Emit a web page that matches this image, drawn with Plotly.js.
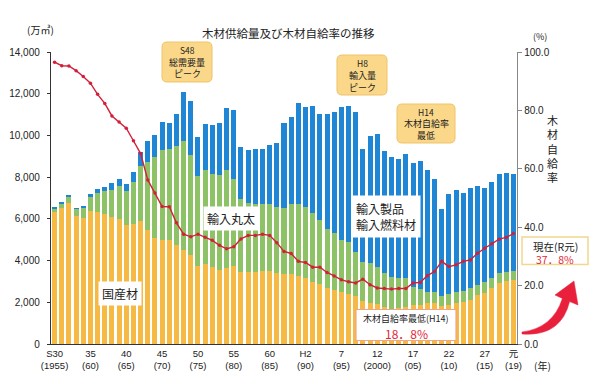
<!DOCTYPE html>
<html><head><meta charset="utf-8">
<script src="https://cdn.plot.ly/plotly-3.0.1.min.js"></script>
<style>html,body{margin:0;padding:0;background:#fff;} #chart{width:600px;height:387px;}</style>
</head><body><div id="chart"></div>
<script>
// ---- data (万㎥ and %) ----
const years = [1955,1956,1957,1958,1959,1960,1961,1962,1963,1964,1965,1966,1967,1968,1969,1970,1971,1972,1973,1974,1975,1976,1977,1978,1979,1980,1981,1982,1983,1984,1985,1986,1987,1988,1989,1990,1991,1992,1993,1994,1995,1996,1997,1998,1999,2000,2001,2002,2003,2004,2005,2006,2007,2008,2009,2010,2011,2012,2013,2014,2015,2016,2017,2018,2019];
const domestic = [6330,6520,6780,6120,6040,6360,6330,6220,6090,5980,5690,5740,5900,5450,5100,5000,4970,4730,4520,4250,3730,3850,3690,3530,3640,3730,3450,3450,3450,3520,3520,3410,3360,3340,3260,3150,2990,2890,2700,2590,2470,2420,2300,2060,1980,1910,1760,1690,1720,1760,1850,1890,1980,1950,1800,1880,1980,2010,2110,2350,2460,2680,2930,3000,3090];
const importedLogs = [160,210,270,350,480,690,930,1100,1280,1590,1630,2030,2640,3280,3870,4290,4360,4770,5220,4830,4310,4480,4470,4590,4710,4200,3520,3300,3280,3180,3180,3160,3180,3360,3460,3400,3310,3060,2800,2740,2530,2470,2120,1870,1900,1780,1640,1510,1430,1390,880,760,520,540,500,540,520,530,590,500,490,470,470,450,390];
const importedProducts = [60,80,110,50,80,130,160,210,340,330,370,490,670,990,1040,1360,1250,1510,2360,2550,1890,2240,2340,2500,2950,3290,2480,2540,2610,2670,2830,3090,4040,4160,4850,4790,5110,5080,5530,5780,6350,6530,6720,5440,6090,6400,5860,5770,5720,5980,5970,6130,5860,5440,4150,4760,4900,4700,4800,4710,4530,4620,4770,4750,4690];
const selfSufficiency = [96.5,95.3,95.2,93.6,91.6,89.3,85.5,82.4,78.1,76.0,73.9,69.6,65.2,56.2,51.7,47.1,47.0,41.5,37.6,36.7,37.6,36.6,35.5,33.8,32.6,33.3,36.0,37.2,37.2,37.6,37.2,34.7,31.7,31.0,28.3,27.9,26.3,26.3,24.5,23.3,22.0,21.3,20.9,22.2,20.3,19.2,19.0,18.8,19.0,19.0,20.9,21.1,23.4,24.8,28.3,26.5,27.1,28.3,28.8,31.1,32.8,34.3,35.9,36.5,37.8];
const tickYears = [1955,1960,1965,1970,1975,1980,1985,1990,1995,2000,2005,2010,2015,2019];
const tickLabels = ['S30<br>(1955)','35<br>(60)','40<br>(65)','45<br>(70)','50<br>(75)','55<br>(80)','60<br>(85)','H2<br>(90)','7<br>(95)','12<br>(2000)','17<br>(05)','22<br>(10)','27<br>(15)','元<br>(19)'];

// ---- layout geometry ----
const W=600,H=387,L=51,R=83,T=52,B=43;
const pw=W-L-R, ph=H-T-B;
const px=x=>(x-L)/pw, py=y=>(H-B-y)/ph;
const P=(x,y)=>px(x).toFixed(4)+','+py(y).toFixed(4);
function rrect(x0,y0,x1,y1,r){
  return `M${P(x0+r,y0)} L${P(x1-r,y0)} Q${P(x1,y0)} ${P(x1,y0+r)} L${P(x1,y1-r)} Q${P(x1,y1)} ${P(x1-r,y1)} L${P(x0+r,y1)} Q${P(x0,y1)} ${P(x0,y1-r)} L${P(x0,y0+r)} Q${P(x0,y0)} ${P(x0+r,y0)} Z`;
}
const JP = 'Noto Sans CJK JP, sans-serif';
const NUM = 'Liberation Sans, Noto Sans CJK JP, sans-serif';

const traces = [
  {type:'bar', x:years, y:domestic, name:'国産材', marker:{color:'#f5b944'}, hoverinfo:'skip'},
  {type:'bar', x:years, y:importedLogs, name:'輸入丸太', marker:{color:'#8dc366'}, hoverinfo:'skip'},
  {type:'bar', x:years, y:importedProducts, name:'輸入製品', marker:{color:'#1f86d6'}, hoverinfo:'skip'},
  {type:'scatter', mode:'lines+markers', x:years, y:selfSufficiency, yaxis:'y2', name:'木材自給率',
   line:{color:'#d3203a', width:1.4}, marker:{color:'#d3203a', size:3.5}, cliponaxis:false}
];

function txt(x,y,text,size,color,extra){
  return Object.assign({xref:'paper',yref:'paper',x:px(x),y:py(y),text:text,showarrow:false,
    xanchor:'center',yanchor:'middle',font:{family:JP,size:size,color:color||'#222'}},extra||{});
}

const annotations = [
  txt(288,33,'木材供給量及び木材自給率の推移',11.5,'#222'),
  txt(40,30,'(万㎥)',10,'#222'),
  txt(540,36,'(%)',9,'#222'),
  txt(542,365,'(年)',10,'#222'),
  txt(552,148,'木<br>材<br>自<br>給<br>率',11,'#222'),
  // callouts
  txt(187,50,'S48',8.5,'#222'), txt(187,62,'総需要量',9,'#222'), txt(187,74,'ピーク',9,'#222'),
  txt(362,63,'H8',8.5,'#222'), txt(362,75,'輸入量',9,'#222'), txt(362,87,'ピーク',9,'#222'),
  txt(426,111.5,'H14',8.5,'#222'), txt(426,123.5,'木材自給率',9,'#222'), txt(426,135.5,'最低',9,'#222'),
  // series labels
  txt(120,293,'国産材',12,'#222',{bgcolor:'#ffffff',borderpad:3}),
  txt(231,218,'輸入丸太',12,'#222',{bgcolor:'#ffffff',borderpad:3}),
  txt(386,217,'輸入製品<br>輸入燃料材',12,'#222',{bgcolor:'#ffffff',borderpad:4,align:'left'}),
  // minimum box text
  txt(406,318.5,'木材自給率最低(H14)',9,'#222'),
  txt(406,333,'18．8%',12,'#e0283c'),
  // current box text
  txt(555,246.5,'現在(R元)',10.5,'#222'),
  txt(555,259.5,'37．8%',10.5,'#e0283c')
];

const shapes = [
  {type:'path',xref:'paper',yref:'paper',path:rrect(162,42,212,82,5),fillcolor:'#fbd889',line:{color:'#efc36a',width:1},layer:'above'},
  {type:'path',xref:'paper',yref:'paper',path:rrect(337,55,387,95,5),fillcolor:'#fbd889',line:{color:'#efc36a',width:1},layer:'above'},
  {type:'path',xref:'paper',yref:'paper',path:rrect(397,104,455,143,5),fillcolor:'#fbd889',line:{color:'#efc36a',width:1},layer:'above'},
  // boxes
  {type:'rect',xref:'paper',yref:'paper',x0:px(356),x1:px(456),y0:py(309.5),y1:py(340.5),fillcolor:'#ffffff',line:{color:'#f0a48c',width:1.2},layer:'above'},
  {type:'rect',xref:'paper',yref:'paper',x0:px(522),x1:px(588),y0:py(237),y1:py(264.5),fillcolor:'#ffffff',line:{color:'#f0d890',width:1.5},layer:'above'},
  // curved red arrow
  {type:'path',xref:'paper',yref:'paper',
   path:`M${P(522,332)} Q${P(553,328)} ${P(562.4,298.4)} L${P(555,295)} L${P(574,281)} L${P(578,305)} L${P(569.6,301.6)} Q${P(561,337)} ${P(522,334)} Z`,
   fillcolor:'#e8203c',line:{color:'#e8203c',width:0.5},layer:'above'}
];

const layout = {
  width:W,height:H,margin:{l:L,r:R,t:T,b:B},
  paper_bgcolor:'#ffffff',plot_bgcolor:'#ffffff',
  barmode:'stack',bargap:0.3,showlegend:false,
  font:{family:NUM,size:10,color:'#222'},
  xaxis:{range:[1954.5,2019.5],tickvals:tickYears,ticktext:tickLabels,showgrid:false,zeroline:false,
         showline:true,linecolor:'#333',linewidth:1.2,ticks:'',tickfont:{family:NUM,size:9.5,color:'#222'}},
  yaxis:{range:[0,14000],dtick:2000,tickformat:',d',showgrid:false,zeroline:false,showline:true,
         linecolor:'#333',linewidth:1.2,ticks:'outside',ticklen:3,tickcolor:'#333',ticklabelstandoff:5,
         tickfont:{family:NUM,size:10,color:'#222'}},
  yaxis2:{range:[0,100],dtick:20,tickformat:'.1f',overlaying:'y',side:'right',showgrid:false,zeroline:false,
          showline:true,linecolor:'#888',linewidth:1.2,ticks:'outside',ticklen:4,tickcolor:'#888',
          tickfont:{family:NUM,size:10,color:'#222'}},
  annotations:annotations,shapes:shapes
};
Plotly.newPlot('chart',traces,layout,{displayModeBar:false,staticPlot:true});
</script></body></html>
